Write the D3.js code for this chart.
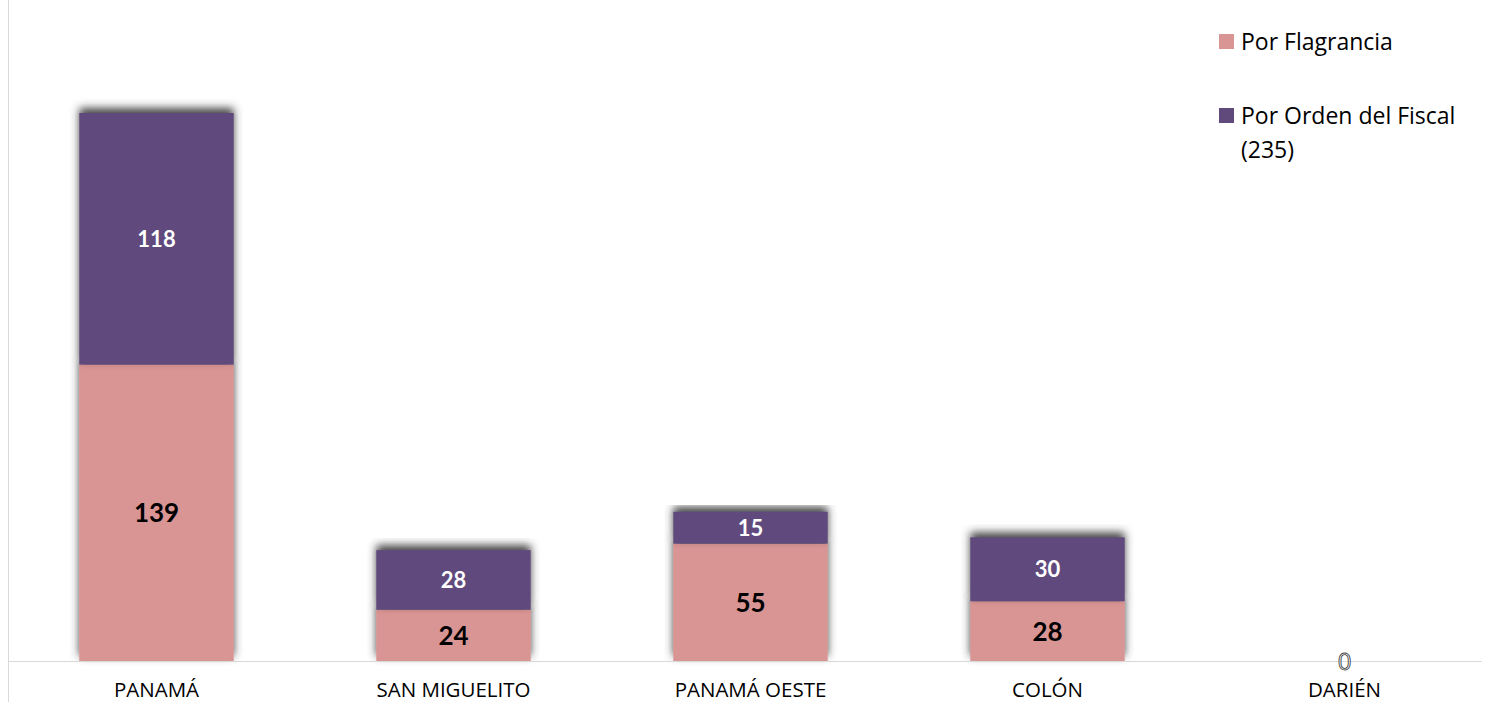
<!DOCTYPE html>
<html>
<head>
<meta charset="utf-8">
<script src="https://cdn.jsdelivr.net/npm/d3@7"></script>
<style>
  body { margin: 0; background: #fff; }
  svg { display: block; font-family: "Open Sans", sans-serif; }
</style>
</head>
<body>
<script>
const categories = ['PANAMÁ', 'SAN MIGUELITO', 'PANAMÁ OESTE', 'COLÓN', 'DARIÉN'];
const flagrancia = [139, 24, 55, 28, 0];
const ordenFiscal = [118, 28, 15, 30, 0];
const seriesNames = ['Por Flagrancia', 'Por Orden del Fiscal (235)'];
const colors = ['#D99594', '#604A7B'];

const svgWidth = 1499;
const svgHeight = 702;
const margin = {left: 8, right: 6, top: 0, bottom: 41};
const baseY = svgHeight - margin.bottom;

const svg = d3.select('body').append('svg')
.attr('width', svgWidth)
.attr('height', svgHeight);

// soft drop shadow like the office chart
const defs = svg.append('defs');
const shadow = defs.append('filter').attr('id', 'shadow')
.attr('x', '-20%').attr('y', '-20%').attr('width', '140%').attr('height', '140%');
shadow.append('feDropShadow')
.attr('dx', 0).attr('dy', -5)
.attr('stdDeviation', 4)
.attr('flood-color', '#333')
.attr('flood-opacity', 0.9);

const x = d3.scaleBand()
.domain(categories)
.range([margin.left, svgWidth - margin.right])
.paddingInner(0.48)
.paddingOuter(0.24);

const y = d3.scaleLinear()
.domain([0, 310])
.range([baseY, margin.top]);

// stacked data
const rows = categories.map((c, i) => ({cat: c, s0: flagrancia[i], s1: ordenFiscal[i]}));
const stack = d3.stack().keys(['s0', 's1'])(rows);

// left border line
svg.append('line')
.attr('x1', 8.5).attr('x2', 8.5)
.attr('y1', 0).attr('y2', svgHeight)
.attr('stroke', '#d9d9d9');

const barsG = svg.append('g');
stack.forEach((layer, li) => {
    barsG.append('g')
    .selectAll('rect')
    .data(layer.filter((d) => d[1] - d[0] > 0))
    .join('rect')
    .attr('x', (d) => x(d.data.cat))
    .attr('width', x.bandwidth())
    .attr('y', (d) => y(d[1]))
    .attr('height', (d) => y(d[0]) - y(d[1]))
    .attr('fill', colors[li])
    .attr('filter', 'url(#shadow)');
});

// value labels
stack.forEach((layer, li) => {
    barsG.append('g')
    .selectAll('text')
    .data(layer.filter((d) => d[1] - d[0] > 0))
    .join('text')
    .attr('x', (d) => x(d.data.cat) + x.bandwidth() / 2)
    .attr('y', (d) => (y(d[0]) + y(d[1])) / 2)
    .attr('dy', '0.36em')
    .attr('text-anchor', 'middle')
    .attr('font-family', 'Lato, sans-serif')
    .attr('font-weight', 'bold')
    .attr('font-size', li === 0 ? 26 : 22)
    .attr('fill', li === 0 ? '#000' : '#fff')
    .text((d) => d[1] - d[0]);
});

// zero label for empty category (outlined, sits on the baseline)
rows.filter((d) => d.s0 + d.s1 === 0).forEach((d) => {
    svg.append('text')
    .attr('x', x(d.cat) + x.bandwidth() / 2)
    .attr('y', baseY)
    .attr('dy', '0.36em')
    .attr('text-anchor', 'middle')
    .attr('font-size', 24)
    .attr('fill', '#fff')
    .attr('stroke', '#444')
    .attr('stroke-width', 0.9)
    .text('0');
});

// x axis
const xAxis = svg.append('g')
.attr('transform', `translate(0, ${baseY})`)
.call(d3.axisBottom(x).tickSize(0).tickPadding(21));
xAxis.select('.domain').attr('stroke', '#d9d9d9').attr('d', `M8,0.5H1482`);
xAxis.selectAll('text')
.attr('font-size', 20.5)
.attr('fill', '#000')
.attr('font-family', '"Open Sans", sans-serif');
// keep the zero label above the axis line
svg.selectAll('text').filter(function () { return this.textContent === '0'; }).raise();

// legend
const legend = svg.append('g');
const legendItems = [
    {label: ['Por Flagrancia'], y: 42},
    {label: ['Por Orden del Fiscal', '(235)'], y: 116}
];
legendItems.forEach((item, i) => {
    legend.append('rect')
    .attr('x', 1219).attr('y', item.y - 8)
    .attr('width', 15).attr('height', 15)
    .attr('fill', colors[i]);
    const t = legend.append('text')
    .attr('x', 1241).attr('y', item.y)
    .attr('font-size', 23)
    .attr('fill', '#000');
    item.label.forEach((l, j) => {
        t.append('tspan').attr('x', 1241).attr('dy', j === 0 ? '0.36em' : '1.45em').text(l);
    });
});
</script>
</body>
</html>
